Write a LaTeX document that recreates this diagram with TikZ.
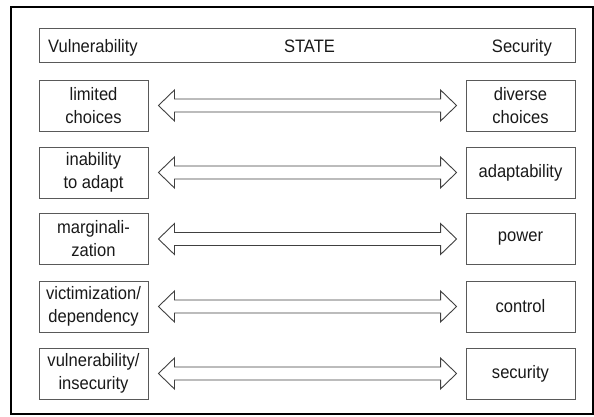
\documentclass[tikz,border=0pt]{standalone}
\usepackage{fontspec}
\setmainfont[FakeStretch=0.92]{Liberation Sans}
\usetikzlibrary{calc}
\tikzset{
  box/.style={draw=black!65, line width=0.9pt, minimum width=109pt, minimum height=51pt,
    inner sep=0pt, align=center, font=\fontsize{18}{23}\selectfont, text=black!90},
  arr/.style={draw=black!75, line width=0.9pt, line join=miter, fill=white},
  hdr/.style={font=\fontsize{18}{23}\selectfont, text=black!90, inner sep=0pt, anchor=base}
}
\newcommand{\dblarr}[2]{%
  \coordinate (tl) at ($(#1.east)+(10,0)$);
  \coordinate (tr) at ($(#2.west)+(-9,0)$);
  \draw[arr] (tl) -- ($(tl)+(16,15.5)$) -- ($(tl)+(16,6.5)$) -- ($(tr)+(-16,6.5)$)
    -- ($(tr)+(-16,15.5)$) -- (tr) -- ($(tr)+(-16,-15.5)$) -- ($(tr)+(-16,-6.5)$)
    -- ($(tl)+(16,-6.5)$) -- ($(tl)+(16,-15.5)$) -- cycle;
}
\begin{document}
\begin{tikzpicture}[x=1pt,y=-1pt]
\useasboundingbox (0,0) rectangle (594,417);
\draw[line width=2pt, black] (11,7) rectangle (592.5,414);
% header
\node[draw=black!65, line width=0.9pt, minimum width=536pt, minimum height=34pt, inner sep=0pt] (hd) at (307,45) {};
\node[hdr, anchor=base west] (hv) at (48,53) {Vulnerability};
\node[hdr] (hs) at (309.5,53) {STATE};
\node[hdr, anchor=base east] (hse) at (552,53) {Security};
% rows
\node[box] (l1) at (93.5,105.5) {limited\\choices};
\node[box] (r1) at (520.5,105.5) {diverse\\choices};
\node[box] (l2) at (93.5,172.5) {inability\\to adapt};
\node[box] (r2) at (520.5,172.5) {adaptability};
\node[box] (l3) at (93.5,239) {marginali-\\zation};
\node[box] (r3) at (520.5,239) {power};
\node[box] (l4) at (93.5,306.5) {victimization/\\dependency};
\node[box] (r4) at (520.5,306.5) {control};
\node[box] (l5) at (93.5,373.5) {vulnerability/\\insecurity};
\node[box] (r5) at (520.5,373.5) {security};
\dblarr{l1}{r1}
\dblarr{l2}{r2}
\dblarr{l3}{r3}
\dblarr{l4}{r4}
\dblarr{l5}{r5}
\end{tikzpicture}
\end{document}
